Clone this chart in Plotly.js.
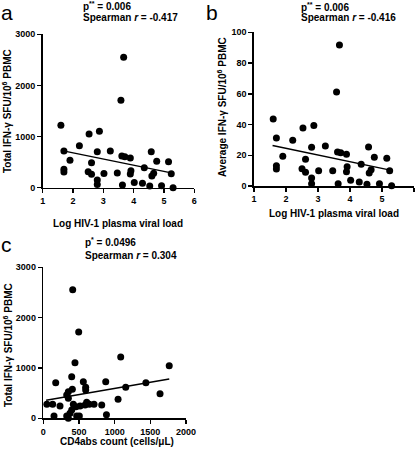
<!DOCTYPE html>
<html>
<head>
<meta charset="utf-8">
<script src="https://cdn.plot.ly/plotly-3.0.1.min.js"></script>
<style>html,body{margin:0;padding:0;background:#fff;}#chart{width:416px;height:449px;}</style>
</head>
<body>
<div id="chart"></div>
<script>
// Panels a & b: Log HIV-1 plasma viral load (shared x)
const viralLoad = [1.60,1.70,1.70,1.70,1.90,2.21,2.53,2.50,2.61,2.61,2.80,2.87,2.80,2.80,3.02,3.23,3.46,3.58,3.67,3.61,3.71,3.63,3.89,3.91,3.89,4.02,4.29,4.35,4.58,4.53,4.60,4.66,4.76,4.92,5.15,5.24,5.30];
const totalIfnA  = [1219,717,359,306,535,822,1050,313,489,261,704,1102,150,65,280,717,287,1708,2549,619,606,52,580,332,267,104,85,391,704,33,229,281,515,39,508,274,0];
const avgIfnB    = [43.6,31.2,13.2,11.1,19.3,29.7,37.7,11.3,17.4,8.9,25.2,39.3,5.2,1.5,10.0,26.0,10.0,61.2,91.8,22.1,21.7,1.5,20.6,12.6,9.3,3.7,2.6,14.1,25.4,1.1,8.5,10.6,18.7,1.5,18.0,10.0,0.2];
// Panel c: CD4 abs count vs total IFN-γ
const cd4Count = [412,496,444,1085,1765,398,174,561,875,1438,1155,594,594,407,351,328,351,50,131,234,421,458,515,608,645,711,819,585,1048,150,328,374,398,468,505,885,351,1636];
const totalIfnC = [2555,1715,1105,1220,1045,824,708,724,724,708,619,616,563,576,529,463,397,278,278,244,278,231,244,318,278,278,264,264,377,46,46,99,165,46,46,72,0,486];
// Fitted lines (end points)
const fitAx = [1.60, 5.24], fitAy = [730, 290];
const fitBx = [1.58, 5.22], fitBy = [26.4, 10.5];
const fitCx = [40, 1765],   fitCy = [360, 781];
// Tick values
const vlTicks = [1,2,3,4,5,6];
const ifnTicks = [0,1000,2000,3000];
const avgTicks = [0,20,40,60,80,100];
const cd4Ticks = [0,500,1000,1500,2000];

const W = 416, H = 449;
const FONT = 'Liberation Sans, Arial, sans-serif';
const px = v => v / W;
const py = v => 1 - v / H;

const marker = {color:'#000', size:7};
const line = {color:'#000', width:1.5};
const traces = [
  {x:viralLoad, y:totalIfnA, type:'scatter', mode:'markers', marker, xaxis:'x', yaxis:'y', cliponaxis:false},
  {x:fitAx, y:fitAy, type:'scatter', mode:'lines', line, xaxis:'x', yaxis:'y', cliponaxis:false},
  {x:viralLoad, y:avgIfnB, type:'scatter', mode:'markers', marker, xaxis:'x2', yaxis:'y2', cliponaxis:false},
  {x:fitBx, y:fitBy, type:'scatter', mode:'lines', line, xaxis:'x2', yaxis:'y2', cliponaxis:false},
  {x:cd4Count, y:totalIfnC, type:'scatter', mode:'markers', marker, xaxis:'x3', yaxis:'y3', cliponaxis:false},
  {x:fitCx, y:fitCy, type:'scatter', mode:'lines', line, xaxis:'x3', yaxis:'y3', cliponaxis:false}
];

const axBase = {showline:true, linecolor:'#000', linewidth:1.6, ticks:'outside', ticklen:4, tickwidth:1.5, tickcolor:'#000',
  showgrid:false, zeroline:false, fixedrange:true, tickfont:{family:FONT, size:9, color:'#000', weight:'bold'}, tickmode:'array'};

const layout = {
  width:W, height:H, margin:{l:0,r:0,t:0,b:0}, showlegend:false,
  paper_bgcolor:'#fff', plot_bgcolor:'rgba(0,0,0,0)',
  xaxis: Object.assign({}, axBase, {domain:[px(42.7), px(194.3)], range:[1,6], tickvals:vlTicks, anchor:'y'}),
  yaxis: Object.assign({}, axBase, {domain:[py(187.7), py(34.3)], range:[0,3000], tickvals:ifnTicks, anchor:'x'}),
  xaxis2: Object.assign({}, axBase, {domain:[px(254), px(414)], range:[1,6], tickvals:vlTicks, anchor:'y2'}),
  yaxis2: Object.assign({}, axBase, {domain:[py(186), py(32.3)], range:[0,100], tickvals:avgTicks, anchor:'x2'}),
  xaxis3: Object.assign({}, axBase, {domain:[px(43.3), px(186)], range:[0,2000], tickvals:cd4Ticks, anchor:'y3'}),
  yaxis3: Object.assign({}, axBase, {domain:[py(418.3), py(267.3)], range:[0,3000], tickvals:ifnTicks, anchor:'x3'}),
  annotations: []
};

function ann(text, x, y, opts) {
  layout.annotations.push(Object.assign({text, x:px(x), y:py(y), xref:'paper', yref:'paper', showarrow:false,
    xanchor:'left', yanchor:'middle', borderpad:0, font:{family:FONT, size:10, color:'#000', weight:'bold'}}, opts || {}));
}
const letterFont = {family:FONT, size:21, color:'#000', weight:'normal'};
ann('a', 0, 0, {font:letterFont, yanchor:'top'});
ann('b', 205, 0, {font:letterFont, yanchor:'top'});
ann('c', 0, 232, {font:letterFont, yanchor:'top'});

ann('p<sup>**</sup> = 0.006', 82, 6.5);
ann('Spearman <i>r</i> = -0.417', 82, 17.5);
ann('p<sup>**</sup> = 0.006', 300, 7);
ann('Spearman <i>r</i> = -0.416', 300, 18);
ann('p<sup>*</sup> = 0.0496', 84, 242);
ann('Spearman <i>r</i> = 0.304', 84, 255);

ann('Log HIV-1 plasma viral load', 118, 223, {xanchor:'center'});
ann('Log HIV-1 plasma viral load', 334, 213, {xanchor:'center'});
ann('CD4abs count (cells/μL)', 117, 441.5, {xanchor:'center'});
ann('Total IFN-γ SFU/10<sup>6</sup> PBMC', 7, 111, {xanchor:'center', textangle:-90});
ann('Average IFN-γ SFU/10<sup>6</sup> PBMC', 222, 107, {xanchor:'center', textangle:-90});
ann('Total IFN-γ SFU/10<sup>6</sup> PBMC', 8, 345, {xanchor:'center', textangle:-90});

Plotly.newPlot('chart', traces, layout, {staticPlot:true, displayModeBar:false});
</script>
</body>
</html>
